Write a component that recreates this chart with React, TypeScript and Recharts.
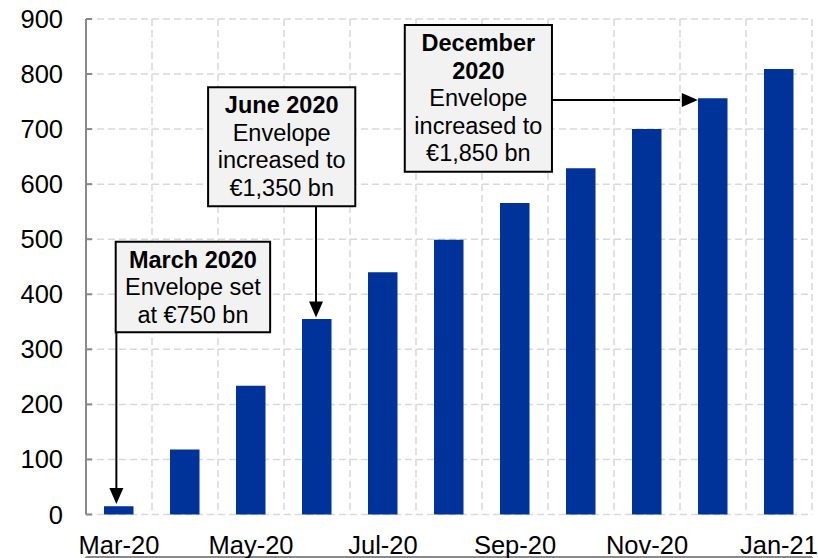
import React from 'react';
import {
  BarChart,
  Bar,
  XAxis,
  YAxis,
  CartesianGrid,
  ReferenceArea,
  ReferenceLine,
  ReferenceDot,
} from 'recharts';

// ---- data ----
const months = ['Mar-20', 'Apr-20', 'May-20', 'Jun-20', 'Jul-20', 'Aug-20', 'Sep-20', 'Oct-20', 'Nov-20', 'Dec-20', 'Jan-21'];
const purchases = [15, 118, 234, 355, 440, 499, 566, 629, 700, 756, 809];
const yTicks = [0, 100, 200, 300, 400, 500, 600, 700, 800, 900];
const boundaryTicks = [-0.5, 0.5, 1.5, 2.5, 3.5, 4.5, 5.5, 6.5, 7.5, 8.5, 9.5, 10.5];
const labelTicks = [0, 2, 4, 6, 8, 10];
const marchNote = ['March 2020', 'Envelope set', 'at €750 bn'];
const juneNote = ['June 2020', 'Envelope', 'increased to', '€1,350 bn'];
const decNote = ['December', '2020', 'Envelope', 'increased to', '€1,850 bn'];
const marchBoldLines = 1;
const juneBoldLines = 1;
const decBoldLines = 2;

const data = months.map((m, i) => ({ idx: i, month: m, value: purchases[i] }));

const FONT = '"Liberation Sans", Arial, Helvetica, sans-serif';
const AXIS = '#898989';
const Y_GAP = 23;

const YTick = (props: any) => {
  const { x, y, payload } = props;
  const ax = x + Y_GAP;
  return (
    <g>
      <line x1={ax} x2={ax + 6} y1={y} y2={y} stroke={AXIS} strokeWidth={2} />
      <text x={x} y={y} dy="0.355em" textAnchor="end" fontSize={25.5} fontFamily={FONT} fill="#000">
        {payload.value}
      </text>
    </g>
  );
};

const EmptyTick = () => <g />;

const XLabelTick = (props: any) => {
  const { x, y, payload } = props;
  return (
    <text x={x} y={y} dy="0.71em" textAnchor="middle" fontSize={25.5} fontFamily={FONT} fill="#000">
      {months[payload.value]}
    </text>
  );
};

const NoteLabel = (props: any) => {
  const { viewBox, lines, bold } = props;
  if (!viewBox) return null;
  const cx = viewBox.x + viewBox.width / 2;
  const top = viewBox.y;
  return (
    <g>
      {lines.map((l: string, i: number) => (
        <text
          key={i}
          x={cx}
          y={top + 26 + i * 27.6}
          textAnchor="middle"
          fontSize={23.5}
          fontFamily={FONT}
          fontWeight={i < bold ? 'bold' : 'normal'}
          fill="#000"
        >
          {l}
        </text>
      ))}
    </g>
  );
};

const DownArrow = (props: any) => {
  const { cx, cy } = props;
  return <polygon points={`${cx - 7},${cy - 16} ${cx + 7},${cy - 16} ${cx},${cy}`} fill="#000" />;
};

const RightArrow = (props: any) => {
  const { cx, cy } = props;
  return <polygon points={`${cx - 16},${cy - 7} ${cx - 16},${cy + 7} ${cx},${cy}`} fill="#000" />;
};

export default function App() {
  return (
    <div style={{ position: 'absolute', left: 0, top: 0 }}>
      <BarChart width={818} height={558} data={data} margin={{ top: 19, right: 6, bottom: 0, left: 0 }}>
        <CartesianGrid xAxisId="main" stroke="#d9d9d9" strokeWidth={1.5} strokeDasharray="7 4" />
        <XAxis
          xAxisId="main"
          type="number"
          dataKey="idx"
          domain={[-0.5, 10.5]}
          ticks={boundaryTicks}
          interval={0}
          allowDataOverflow
          height={1}
          tickSize={7}
          tick={EmptyTick}
          axisLine={{ stroke: AXIS, strokeWidth: 2 }}
          tickLine={{ stroke: AXIS, strokeWidth: 2 }}
        />
        <XAxis
          xAxisId="labels"
          type="number"
          dataKey="idx"
          domain={[-0.5, 10.5]}
          ticks={labelTicks}
          interval={0}
          allowDataOverflow
          height={42.5}
          tickSize={0}
          tickMargin={21}
          axisLine={false}
          tickLine={false}
          tick={XLabelTick}
        />
        <YAxis
          width={86}
          domain={[0, 900]}
          ticks={yTicks}
          interval={0}
          tickSize={0}
          tickMargin={Y_GAP}
          tickLine={false}
          tick={YTick}
          axisLine={{ stroke: AXIS, strokeWidth: 2 }}
        />
        <Bar xAxisId="main" dataKey="value" fill="#003399" barSize={29.5} isAnimationActive={false} />

        {/* March 2020 */}
        <ReferenceLine
          xAxisId="main"
          segment={[{ x: -0.04, y: 331 }, { x: -0.04, y: 30 }]}
          stroke="#000"
          strokeWidth={2}
        />
        <ReferenceDot xAxisId="main" x={-0.04} y={19} r={1} shape={DownArrow} />
        <ReferenceArea
          xAxisId="main"
          x1={-0.05}
          x2={2.29}
          y1={331}
          y2={495.5}
          fill="#f2f2f2"
          fillOpacity={1}
          stroke="#000"
          strokeWidth={2}
          label={<NoteLabel lines={marchNote} bold={marchBoldLines} />}
        />

        {/* June 2020 */}
        <ReferenceLine
          xAxisId="main"
          segment={[{ x: 2.985, y: 560 }, { x: 2.985, y: 370 }]}
          stroke="#000"
          strokeWidth={2}
        />
        <ReferenceDot xAxisId="main" x={2.985} y={358} r={1} shape={DownArrow} />
        <ReferenceArea
          xAxisId="main"
          x1={1.35}
          x2={3.58}
          y1={560}
          y2={776}
          fill="#f2f2f2"
          fillOpacity={1}
          stroke="#000"
          strokeWidth={2}
          label={<NoteLabel lines={juneNote} bold={juneBoldLines} />}
        />

        {/* December 2020 */}
        <ReferenceLine
          xAxisId="main"
          segment={[{ x: 6.56, y: 752.7 }, { x: 8.5, y: 752.7 }]}
          stroke="#000"
          strokeWidth={2}
        />
        <ReferenceDot xAxisId="main" x={8.77} y={752.7} r={1} shape={RightArrow} />
        <ReferenceArea
          xAxisId="main"
          x1={4.33}
          x2={6.56}
          y1={622.6}
          y2={889}
          fill="#f2f2f2"
          fillOpacity={1}
          stroke="#000"
          strokeWidth={2}
          label={<NoteLabel lines={decNote} bold={decBoldLines} />}
        />
      </BarChart>
    </div>
  );
}
